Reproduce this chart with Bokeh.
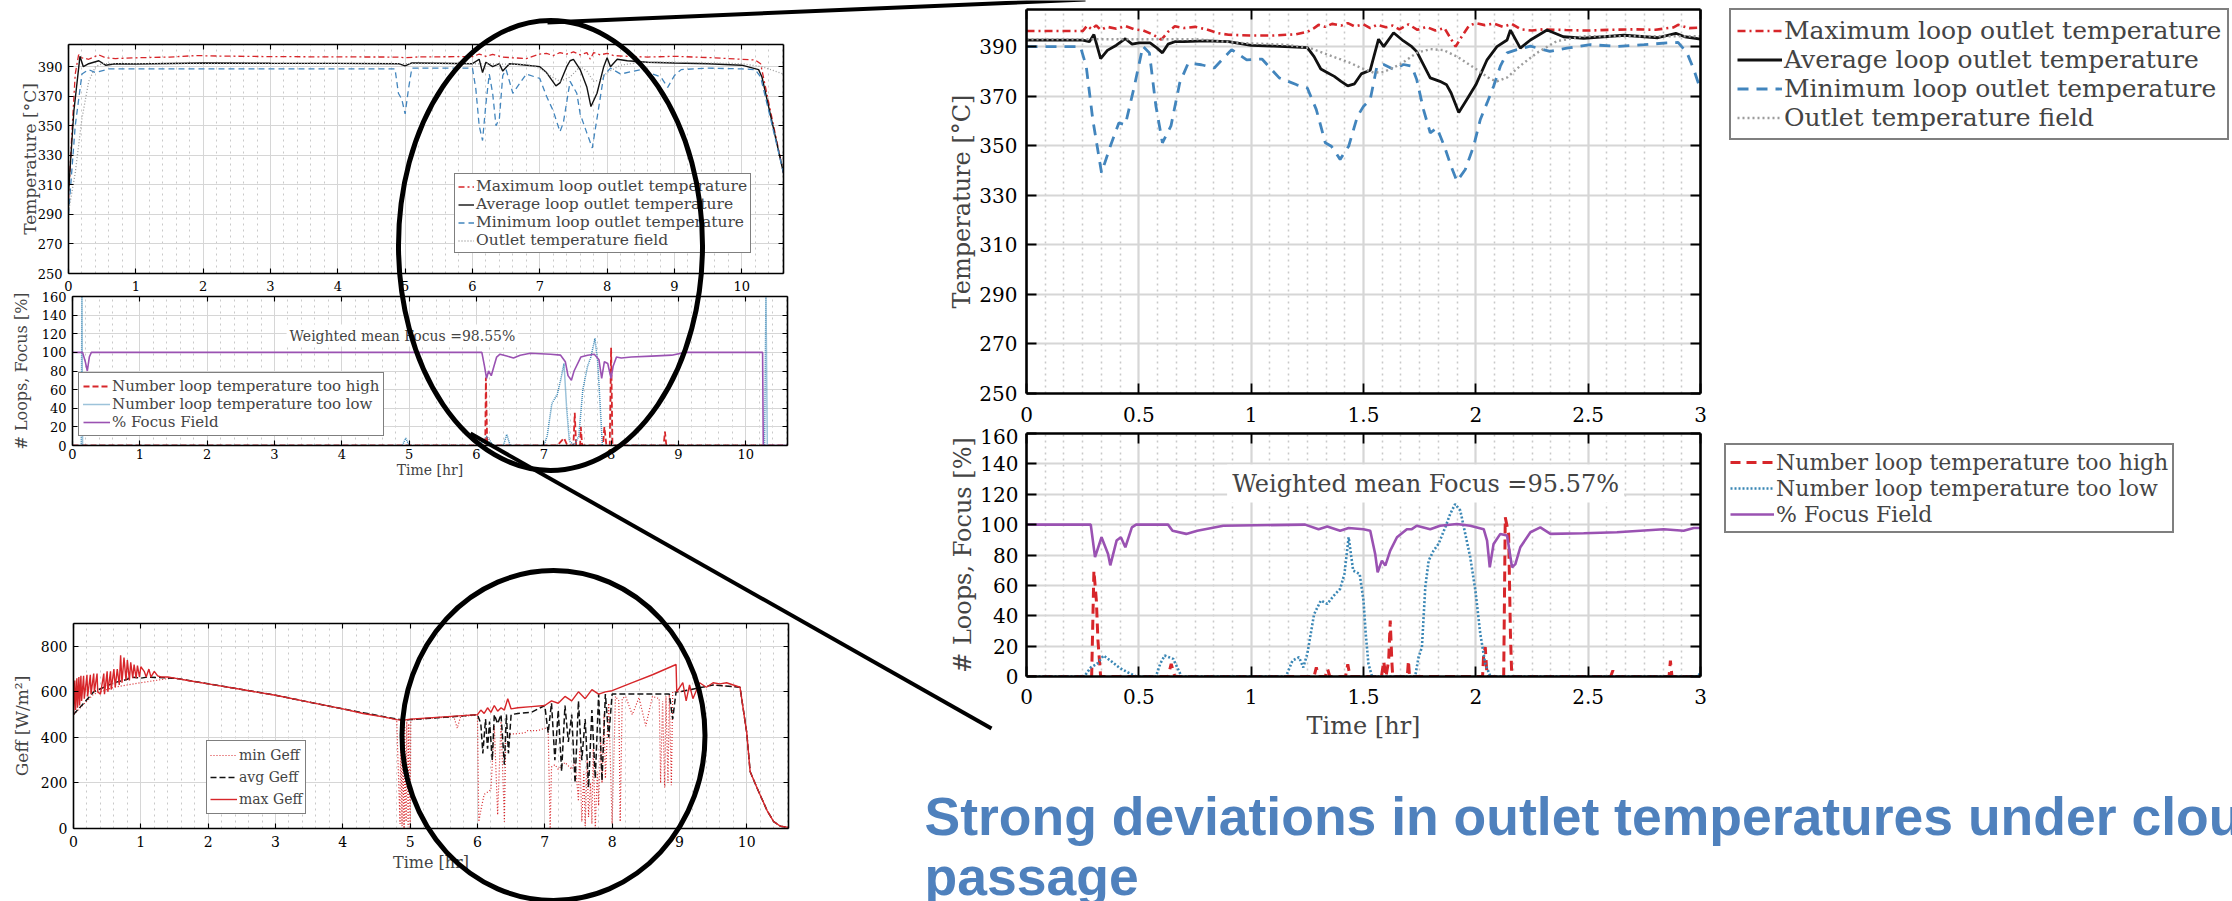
from bokeh.plotting import figure
from bokeh.models import (Range1d, LinearAxis, FixedTicker, Legend, LegendItem, Label,
                          NumeralTickFormatter, Grid)
from bokeh.layouts import column
from bokeh.embed import file_html
from bokeh.resources import INLINE
from bokeh.core.properties import value

# ---------------- data (time [hr], value) ----------------
# Full-day temperatures (top-left)
T1_MAX = [(0,300),(0.05,345),(0.10,385),(0.15,398),(0.20,396),(0.30,395),(0.45,398),(0.55,396),(0.70,395.5),(1.0,396),(1.5,396.5),(1.9,397.5),(2.2,397.2),(3.0,396.8),(4.0,396.6),(4.9,396.5),(5.0,396),(5.2,396.6),(6.0,396.8),(6.1,398.5),(6.2,397),(6.3,398.3),(6.45,396.5),(6.6,396),(6.8,395.5),(7.0,398.5),(7.1,399),(7.2,397.5),(7.3,399.5),(7.4,398.5),(7.5,400),(7.6,398),(7.7,399.5),(7.75,395),(7.8,399.5),(7.9,398),(8.0,399),(8.1,397.5),(8.3,397),(8.6,396.5),(9.0,397),(9.3,396.5),(9.6,396),(10.0,395),(10.2,394.5),(10.28,392),(10.62,318)]
T1_AVG = [(0,305),(0.08,360),(0.17,397),(0.22,390),(0.30,392),(0.45,394),(0.55,391),(0.70,392),(1.0,391.8),(2.0,392.5),(3.0,392.3),(4.0,392.2),(4.9,392),(5.0,390.5),(5.1,392.5),(5.5,392.3),(6.0,392),(6.1,395),(6.15,386),(6.2,393),(6.3,390),(6.4,392),(6.45,387),(6.55,392),(6.7,391.5),(7.0,390),(7.1,386),(7.24,377),(7.3,379),(7.4,390),(7.45,394),(7.5,395),(7.6,388),(7.7,376),(7.76,363),(7.85,372),(7.95,390),(8.0,396),(8.05,390),(8.15,395),(8.3,394),(8.6,393),(9.0,392.5),(9.5,392),(10.0,391),(10.25,388),(10.3,383),(10.62,318)]
T1_MIN = [(0,290),(0.1,350),(0.2,385),(0.3,388),(0.4,386),(0.6,388.5),(1.0,388.5),(2.0,388.5),(3.0,388.5),(4.0,388.5),(4.85,388.5),(4.9,372),(4.95,368),(5.0,358),(5.05,375),(5.1,389),(5.5,389),(6.0,389),(6.05,375),(6.1,350),(6.15,340),(6.2,365),(6.25,385),(6.3,372),(6.35,350),(6.4,355),(6.45,384),(6.5,388),(6.6,372),(6.8,385),(7.0,382),(7.1,370),(7.2,360),(7.3,346),(7.35,352),(7.45,380),(7.55,372),(7.6,358),(7.7,345),(7.78,335),(7.85,355),(7.95,384),(8.05,389),(8.2,385),(8.5,388),(8.8,383),(8.9,376),(9.0,384),(9.1,388),(9.5,389),(10.0,388.5),(10.2,388),(10.28,383),(10.62,318)]
T1_FIELD = [(0,292),(0.1,318),(0.2,355),(0.3,380),(0.4,390),(0.5,392),(1.0,392),(2.0,392),(4.0,392),(6.0,392),(6.8,391.5),(7.0,389),(7.15,384),(7.3,380),(7.45,383),(7.6,390),(7.7,387),(7.8,380),(7.9,381),(8.0,386),(8.2,391),(8.5,393),(9.0,393),(9.5,392.5),(10.0,392),(10.3,390),(10.62,385)]

# Full-day loops / focus (middle-left)
L1_HIGH = [(0,0),(6.13,0),(6.14,73),(6.16,0),(7.2,0),(7.3,8),(7.35,0),(7.44,0),(7.46,35),(7.48,0),(7.54,0),(7.55,20),(7.57,0),(7.88,0),(7.9,20),(7.93,0),(7.98,0),(8.0,105),(8.02,0),(8.78,0),(8.8,15),(8.82,0),(10.62,0)]
L1_LOW = [(0,0),(0.13,0),(0.14,165),(0.15,0),(4.9,0),(4.95,8),(5.0,0),(6.05,0),(6.15,10),(6.25,0),(6.4,0),(6.45,12),(6.5,0),(7.0,0),(7.05,10),(7.12,45),(7.2,55),(7.25,70),(7.3,88),(7.34,40),(7.38,5),(7.45,0),(7.52,10),(7.58,60),(7.65,85),(7.7,95),(7.76,115),(7.8,90),(7.84,40),(7.87,0),(10.28,0),(10.3,165),(10.32,0),(10.62,0)]
L1_FOCUS = [(0,100),(0.15,100),(0.19,90),(0.22,80),(0.25,95),(0.28,100),(6.08,100),(6.12,85),(6.15,72),(6.18,80),(6.22,75),(6.26,85),(6.3,95),(6.35,98),(6.45,96),(6.55,94),(6.65,97),(6.8,99),(7.1,98),(7.25,97),(7.32,90),(7.36,75),(7.41,70),(7.45,80),(7.55,95),(7.65,97),(7.75,98),(7.82,92),(7.86,72),(7.9,90),(7.95,88),(8.0,72),(8.03,85),(8.08,95),(8.15,94),(8.3,95),(8.6,96),(8.9,97),(9.1,100),(10.25,100),(10.26,0),(10.62,0)]
L1_MEAN = "Weighted mean Focus =98.55%"

# Effective irradiance (bottom-left)
G_MAX = [(0,500),(0.02,650),(0.03,520),(0.05,660),(0.06,530),(0.08,665),(0.09,540),(0.11,670),(0.12,560),(0.15,670),(0.16,570),(0.20,675),(0.21,580),(0.25,675),(0.26,590),(0.30,680),(0.31,600),(0.35,680),(0.36,600),(0.40,590),(0.45,680),(0.46,590),(0.50,690),(0.51,600),(0.55,690),(0.56,610),(0.60,700),(0.62,620),(0.65,700),(0.68,630),(0.70,760),(0.72,640),(0.75,750),(0.78,650),(0.80,740),(0.83,650),(0.85,730),(0.88,660),(0.90,720),(0.93,660),(0.95,715),(0.98,665),(1.00,710),(1.05,690),(1.08,665),(1.12,700),(1.15,665),(1.20,690),(1.25,670),(1.30,665),(1.40,665),(1.50,660),(1.70,650),(2.0,635),(2.5,610),(3.0,585),(3.5,555),(4.0,525),(4.3,505),(4.6,490),(4.8,478),(4.9,475),(5.0,480),(5.5,490),(6.0,500),(6.05,520),(6.1,505),(6.15,530),(6.2,510),(6.25,540),(6.3,515),(6.35,530),(6.4,520),(6.45,570),(6.5,525),(6.6,530),(6.8,535),(7.0,540),(7.1,560),(7.2,550),(7.3,580),(7.4,560),(7.5,600),(7.6,570),(7.7,610),(7.8,590),(7.9,600),(8.0,605),(8.3,640),(8.6,675),(8.95,720),(8.96,600),(9.05,640),(9.1,560),(9.15,630),(9.2,570),(9.3,640),(9.4,620),(9.5,640),(9.6,635),(9.7,640),(9.8,630),(9.9,620),(10.0,420),(10.05,250),(10.15,180),(10.3,80),(10.4,30),(10.5,10),(10.62,5)]
G_AVG = [(0,500),(0.3,600),(0.6,640),(0.8,655),(0.85,665),(1.0,660),(1.1,665),(1.5,660),(2.0,635),(3.0,585),(4.0,525),(4.9,475),(5.0,478),(5.5,488),(6.0,500),(6.05,460),(6.08,330),(6.12,480),(6.15,350),(6.18,470),(6.22,300),(6.25,500),(6.3,460),(6.35,500),(6.4,280),(6.43,500),(6.46,330),(6.5,500),(6.6,505),(6.8,510),(7.0,540),(7.05,420),(7.1,550),(7.15,300),(7.2,520),(7.25,250),(7.3,540),(7.35,380),(7.4,500),(7.45,200),(7.5,560),(7.55,300),(7.6,480),(7.65,180),(7.7,520),(7.75,220),(7.8,590),(7.85,210),(7.9,590),(7.95,400),(8.0,590),(8.3,590),(8.6,590),(8.85,590),(8.9,480),(8.95,600),(9.0,600),(9.5,630),(9.9,620),(10.0,420),(10.05,250),(10.15,180),(10.3,80),(10.4,30),(10.5,10),(10.62,5)]
G_MIN = [(0,500),(0.3,590),(0.6,620),(1.0,640),(1.4,658),(1.5,660),(2.0,635),(3.0,585),(4.0,525),(4.8,478),(4.85,20),(4.86,470),(4.88,10),(4.89,460),(4.91,0),(4.92,450),(4.94,30),(4.95,470),(4.97,5),(4.98,460),(5.0,0),(5.01,478),(5.05,478),(5.5,488),(5.65,490),(5.7,440),(5.75,492),(6.0,498),(6.02,30),(6.05,80),(6.1,150),(6.2,170),(6.25,450),(6.3,60),(6.35,470),(6.4,30),(6.42,400),(6.45,410),(6.5,415),(6.55,415),(6.7,420),(6.75,430),(6.9,430),(7.0,440),(7.05,440),(7.08,0),(7.1,270),(7.15,280),(7.2,260),(7.3,290),(7.4,260),(7.45,300),(7.5,120),(7.52,350),(7.55,30),(7.58,250),(7.6,10),(7.63,300),(7.65,50),(7.68,200),(7.7,20),(7.72,350),(7.75,0),(7.78,250),(7.8,100),(7.83,400),(7.85,200),(7.88,500),(7.9,220),(7.95,550),(8.0,20),(8.05,580),(8.1,560),(8.12,30),(8.15,570),(8.2,580),(8.3,500),(8.4,575),(8.5,450),(8.6,580),(8.7,570),(8.72,200),(8.75,560),(8.78,180),(8.8,580),(8.83,200),(8.85,590),(8.88,190),(8.9,600),(8.95,600),(9.0,600),(9.5,630),(9.9,620),(10.0,420),(10.05,250),(10.15,180),(10.3,80),(10.4,30),(10.5,10),(10.62,5)]

# Zoomed 3-hour window temperatures (top-right)
T2_MAX = [(0,396.3),(0.25,396.3),(0.27,398.5),(0.29,397.0),(0.31,398.6),(0.33,396.8),(0.36,398.0),(0.40,397.2),(0.44,398.3),(0.48,397.0),(0.52,396.5),(0.56,395.0),(0.60,392.8),(0.63,396.0),(0.66,398.2),(0.70,397.5),(0.75,398.0),(0.80,397.0),(0.85,395.5),(0.90,394.8),(1.00,394.5),(1.10,394.5),(1.20,395.0),(1.25,396.0),(1.28,397.5),(1.30,398.8),(1.33,398.0),(1.36,399.2),(1.40,398.5),(1.43,399.5),(1.46,398.2),(1.50,399.0),(1.53,397.5),(1.56,398.8),(1.60,397.8),(1.63,398.5),(1.66,397.0),(1.70,399.0),(1.74,396.8),(1.78,398.0),(1.82,396.5),(1.86,397.5),(1.89,393.0),(1.91,390.0),(1.94,394.5),(1.97,398.5),(2.00,399.5),(2.04,398.7),(2.08,399.3),(2.12,398.0),(2.16,399.2),(2.20,397.0),(2.25,396.5),(2.30,397.0),(2.40,396.7),(2.50,396.5),(2.60,396.8),(2.70,397.0),(2.80,396.8),(2.88,397.8),(2.90,398.8),(2.95,397.5),(3.00,397.7)]
T2_AVG = [(0,392.6),(0.25,392.6),(0.28,392.0),(0.30,394.9),(0.33,385.2),(0.36,388.5),(0.40,390.6),(0.44,393.2),(0.47,391.0),(0.50,391.5),(0.55,391.5),(0.58,389.5),(0.605,387.5),(0.63,391.0),(0.66,392.0),(0.70,392.0),(0.80,392.3),(0.90,392.0),(1.00,390.5),(1.10,390.2),(1.20,389.8),(1.25,389.6),(1.28,386.0),(1.31,381.0),(1.34,379.5),(1.37,378.0),(1.40,376.0),(1.43,374.2),(1.46,375.0),(1.49,379.0),(1.53,380.5),(1.567,393.0),(1.59,390.0),(1.634,395.6),(1.678,392.3),(1.715,390.0),(1.737,388.0),(1.797,377.4),(1.84,376.0),(1.87,374.6),(1.89,371.3),(1.924,363.4),(1.96,368.7),(2.00,374.6),(2.05,384.7),(2.094,390.0),(2.139,392.7),(2.154,396.7),(2.198,389.4),(2.243,392.7),(2.317,396.7),(2.39,394.0),(2.48,393.4),(2.66,394.6),(2.81,393.6),(2.89,395.4),(2.93,394.0),(3.00,393.0)]
T2_MIN = [(0,390.0),(0.24,390.0),(0.266,382.0),(0.295,360.6),(0.334,339.1),(0.373,349.8),(0.411,359.2),(0.44,358.5),(0.48,374.0),(0.518,390.2),(0.547,387.5),(0.576,366.0),(0.605,351.2),(0.643,358.0),(0.682,375.4),(0.72,383.4),(0.778,382.7),(0.836,381.4),(0.913,388.8),(0.98,384.7),(1.048,385.0),(1.125,377.4),(1.203,374.6),(1.25,373.3),(1.29,364.6),(1.33,351.2),(1.357,349.8),(1.396,344.5),(1.434,349.8),(1.473,361.9),(1.50,365.9),(1.53,368.7),(1.56,382.1),(1.59,382.8),(1.634,380.8),(1.678,382.8),(1.715,382.1),(1.737,376.7),(1.767,364.6),(1.797,355.2),(1.827,357.2),(1.86,349.8),(1.89,341.7),(1.916,335.7),(1.953,340.4),(1.99,349.8),(2.02,360.6),(2.05,367.3),(2.079,374.0),(2.109,382.1),(2.139,387.5),(2.183,388.8),(2.243,390.2),(2.33,388.1),(2.405,389.4),(2.51,390.8),(2.63,390.1),(2.75,390.8),(2.85,391.5),(2.90,391.7),(2.94,387.5),(2.97,380.8),(3.00,372.7)]
T2_FIELD = [(0,393.0),(0.76,393.0),(0.95,391.5),(1.15,390.8),(1.26,389.5),(1.34,386.8),(1.44,383.5),(1.486,381.5),(1.545,379.5),(1.59,379.8),(1.663,382.8),(1.737,387.5),(1.797,389.0),(1.856,388.6),(1.916,386.0),(2.00,381.0),(2.064,377.0),(2.094,376.0),(2.14,377.6),(2.198,382.3),(2.272,387.5),(2.36,392.2),(2.48,394.2),(3.00,394.2)]

# Zoomed 3-hour window loops / focus (bottom-right)
L2_HIGH = [(0,0),(0.29,0),(0.30,69.7),(0.311,50),(0.318,23.7),(0.33,0),(0.63,0),(0.644,8.3),(0.66,0),(1.28,0),(1.29,6),(1.30,0),(1.33,0),(1.34,5),(1.35,0),(1.42,0),(1.43,8),(1.44,0),(1.58,0),(1.59,10),(1.60,0),(1.612,10.5),(1.619,36.8),(1.626,10.5),(1.63,0),(1.695,0),(1.70,10.5),(1.705,0),(2.03,0),(2.035,15),(2.042,19.3),(2.05,0),(2.124,0),(2.131,104.8),(2.146,93.9),(2.154,28),(2.16,0),(2.60,0),(2.61,4),(2.62,0),(2.86,0),(2.866,10.5),(2.873,0),(3.0,0)]
L2_LOW = [(0,0),(0.257,0),(0.286,6),(0.314,8.3),(0.343,13.8),(0.373,10.5),(0.411,6),(0.45,2.8),(0.488,0),(0.576,0),(0.595,8.3),(0.615,13.8),(0.653,11.6),(0.69,0),(1.155,0),(1.184,10.5),(1.213,12.7),(1.232,6),(1.25,15),(1.28,41),(1.31,50),(1.339,47.8),(1.368,53.3),(1.396,57.7),(1.415,67.5),(1.434,91.7),(1.454,69.7),(1.483,67.5),(1.50,50),(1.51,28),(1.522,8.3),(1.538,0),(1.73,0),(1.745,12.7),(1.76,19.3),(1.775,58.8),(1.79,76.3),(1.812,82.9),(1.834,87.3),(1.864,98.2),(1.886,107),(1.908,113.6),(1.931,109.2),(1.953,93.9),(1.975,78.6),(1.998,56.6),(2.02,28),(2.042,8.3),(2.065,0),(2.99,0),(3.0,3)]
L2_FOCUS = [(0,100),(0.286,100),(0.305,78.6),(0.334,91.7),(0.363,80.7),(0.373,73.2),(0.401,89.5),(0.42,91.7),(0.44,85.1),(0.469,98.2),(0.488,100),(0.63,100),(0.65,96),(0.711,93.9),(0.76,96),(0.876,99.3),(1.24,100),(1.30,97),(1.339,98.7),(1.396,96),(1.434,97.8),(1.50,97),(1.53,96),(1.552,80.7),(1.563,68.6),(1.582,76.3),(1.597,73),(1.619,82.9),(1.649,91.7),(1.693,97),(1.715,97),(1.737,99.3),(1.797,97),(1.841,99.3),(1.916,100.4),(1.975,99.3),(2.035,97),(2.05,89.5),(2.062,71.9),(2.079,87.3),(2.109,93.9),(2.139,92.8),(2.161,71.9),(2.176,74),(2.198,85.1),(2.243,95),(2.287,98.2),(2.332,93.9),(2.48,94.3),(2.628,95),(2.836,97),(2.925,96),(2.97,97.8),(3.0,97.8)]
L2_MEAN = "Weighted mean Focus =95.57%"

TEMP_TICKS = [250, 270, 290, 310, 330, 350, 370, 390]
LOOP_TICKS = [0, 20, 40, 60, 80, 100, 120, 140, 160]
G_TICKS = [0, 200, 400, 600, 800]
DAY_TICKS = list(range(0, 11))
WIN_TICKS = [0, 0.5, 1, 1.5, 2, 2.5, 3]
TEMP_NAMES = ["Maximum loop outlet temperature", "Average loop outlet temperature",
              "Minimum loop outlet temperature", "Outlet temperature field"]
LOOP_NAMES = ["Number loop temperature too high", "Number loop temperature too low", "% Focus Field"]
G_NAMES = ["min Geff", "avg Geff", "max Geff"]
TITLE_1 = "Strong deviations in outlet temperatures under cloud"
TITLE_2 = "passage"

# ---------------- style ----------------
SERIF = "DejaVu Serif"
RED = "#d7262a"
BLUE = "#4285bd"
LBLUE = "#3a87b5"
GRAY = "#9c9c9c"
PURPLE = "#9a52b2"
BLACK = "#111111"
GRID = "#d6d6d6"

DAY_MINOR = [k * 0.2 for k in range(0, 54) if k % 5 != 0]
WIN_MINOR = [k / 12 for k in range(0, 37) if k % 6 != 0]

S_MAX = dict(line_color=RED, line_width=2.6, line_dash="8 4 2 4")
S_AVG = dict(line_color=BLACK, line_width=2.8)
S_MIN = dict(line_color=BLUE, line_width=2.8, line_dash="11 8")
S_FLD = dict(line_color=GRAY, line_width=2.4, line_dash="2 3")
S_HI = dict(line_color=RED, line_width=3, line_dash="10 6")
S_LO = dict(line_color=LBLUE, line_width=2.6, line_dash="2 2")
S_FO = dict(line_color=PURPLE, line_width=2.6)


def xy(pairs):
    return [a for a, _ in pairs], [b for _, b in pairs]


def style_axis(ax, ticks, tick_px, lw, tick_in, standoff, shown):
    ax.ticker = FixedTicker(ticks=ticks)
    ax.axis_line_color = "black"
    ax.axis_line_width = lw
    ax.major_tick_in = tick_in
    ax.major_tick_out = 0
    ax.major_tick_line_color = "black"
    ax.major_tick_line_width = max(1, lw * 0.7)
    ax.minor_tick_line_color = None
    ax.major_label_text_font = SERIF
    ax.major_label_standoff = standoff
    if shown:
        ax.major_label_text_font_size = f"{tick_px}px"
        ax.major_label_text_color = "black"
    else:
        ax.major_label_text_font_size = "1px"
        ax.major_label_text_color = None


def make_fig(fw, fh, borders, xr, yr, xt, xminor, yt, tick_px, lw, tick_in, xstand, ystand,
             grid_w, margin, xfmt=None):
    left, top, right, bottom = borders
    p = figure(frame_width=fw, frame_height=fh, min_border_left=left, min_border_top=top,
               min_border_right=right, min_border_bottom=bottom,
               x_range=Range1d(*xr), y_range=Range1d(*yr), output_backend="svg",
               toolbar_location=None, background_fill_color="white", border_fill_color=None,
               outline_line_color=None, x_axis_location=None, y_axis_location=None,
               margin=margin, frame_align=False)
    p.grid.visible = False
    ax_b, ax_t, ax_l, ax_r = LinearAxis(), LinearAxis(), LinearAxis(), LinearAxis()
    style_axis(ax_b, xt, tick_px, lw, tick_in, xstand, True)
    style_axis(ax_t, xt, tick_px, lw, tick_in, 0, False)
    style_axis(ax_l, yt, tick_px, lw, tick_in, ystand, True)
    style_axis(ax_r, yt, tick_px, lw, tick_in, 0, False)
    if xfmt is not None:
        ax_b.formatter = xfmt
    p.add_layout(ax_b, "below")
    p.add_layout(ax_t, "above")
    p.add_layout(ax_l, "left")
    p.add_layout(ax_r, "right")
    gx = Grid(dimension=0, ticker=FixedTicker(ticks=xt, minor_ticks=xminor),
              grid_line_color=GRID, grid_line_width=grid_w,
              minor_grid_line_color="#c9c9c9", minor_grid_line_width=max(1, grid_w * 0.7),
              minor_grid_line_dash="2 4")
    gy = Grid(dimension=1, ticker=FixedTicker(ticks=yt), grid_line_color=GRID,
              grid_line_width=grid_w)
    p.add_layout(gx)
    p.add_layout(gy)
    return p, ax_b, ax_l


def axis_label(ax, text, px, standoff):
    ax.axis_label = text
    ax.axis_label_text_font = SERIF
    ax.axis_label_text_font_style = "normal"
    ax.axis_label_text_font_size = f"{px}px"
    ax.axis_label_standoff = standoff


def make_legend(items, loc, font_px, gw, lh, spacing, padding, border_w):
    return Legend(items=[LegendItem(label=n, renderers=[r]) for n, r in items], location=loc,
                  label_text_font=SERIF, label_text_font_size=f"{font_px}px",
                  glyph_width=gw, glyph_height=lh, label_height=lh,
                  label_standoff=2, spacing=spacing, padding=padding, margin=0,
                  border_line_color="black", border_line_width=border_w,
                  background_fill_color="white", background_fill_alpha=1.0)


def legend_panel(names, series, styles, w, h, margin, font_px, gw, lh, padding, bw):
    # transparent panel carrying the outside legend of a zoomed chart; the series are
    # re-plotted here but lie outside this panel's (empty) view, only the legend shows
    f = figure(width=w, height=h, x_range=Range1d(0, 1), y_range=Range1d(-2, -1), min_border=0,
               x_axis_location=None, y_axis_location=None, toolbar_location=None,
               output_backend="svg", background_fill_color=None, border_fill_color=None,
               outline_line_color=None, margin=margin, frame_align=False)
    f.grid.visible = False
    rs = [f.line(*xy(d), **s) for d, s in zip(series, styles)]
    f.add_layout(make_legend(list(zip(names, rs)), "top_left", font_px, gw, lh, 0,
                             padding, bw))
    return f


# ---------------- top-left: full day temperature ----------------
t1, t1b, t1l = make_fig(715, 229, (60, 36, 12, 26), (0, 10.62), (250, 405), DAY_TICKS, DAY_MINOR,
                        TEMP_TICKS, 13, 1.6, 5, 7, 6, 1, (8, 0, 0, 8))
axis_label(t1l, "Temperature [°C]", 17, -5)
r_max = t1.line(*xy(T1_MAX), line_color=RED, line_width=1.3, line_dash="6 3 2 3")
r_avg = t1.line(*xy(T1_AVG), line_color=BLACK, line_width=1.4)
r_min = t1.line(*xy(T1_MIN), line_color=BLUE, line_width=1.3, line_dash="6 4")
r_fld = t1.line(*xy(T1_FIELD), line_color=GRAY, line_width=1.3, line_dash="1 2")
t1.add_layout(make_legend(list(zip(TEMP_NAMES, [r_max, r_avg, r_min, r_fld])), (386, 20),
                          15.5, 16, 17, 0, 3, 1.5))

# ---------------- middle-left: full day loops ----------------
l1, l1b, l1l = make_fig(715, 149, (60, 12, 12, 40), (0, 10.62), (0, 160), DAY_TICKS, DAY_MINOR,
                        LOOP_TICKS, 13, 1.6, 5, 3, 6, 1, (-15, 0, 0, 8))
axis_label(l1l, "# Loops, Focus [%]", 16, 8)
axis_label(l1b, "Time [hr]", 14, 0)
r_hi = l1.line(*xy(L1_HIGH), line_color=RED, line_width=1.8, line_dash="6 3")
r_lo = l1.line(*xy(L1_LOW), line_color=LBLUE, line_width=1.5, line_dash="1 1")
r_fo = l1.line(*xy(L1_FOCUS), line_color=PURPLE, line_width=1.6)
l1.add_layout(make_legend(list(zip(LOOP_NAMES, [r_hi, r_lo, r_fo])), (6, 9), 15, 27, 18, 0, 4, 1.5))
l1.add_layout(Label(x=3.18, y=118, text=L1_MEAN, text_font=SERIF, text_font_size="14px",
                    text_baseline="middle", background_fill_color="white", padding=3))

# ---------------- bottom-left: effective irradiance ----------------
g1, g1b, g1l = make_fig(715, 205, (60, 15, 12, 50), (0, 10.62), (0, 900), DAY_TICKS, DAY_MINOR,
                        G_TICKS, 14, 1.6, 5, 7, 6, 1, (123, 0, 0, 8))
axis_label(g1l, "Geff [W/m²]", 17, 6)
axis_label(g1b, "Time [hr]", 16, 3)
r_gmin = g1.line(*xy(G_MIN), line_color=RED, line_width=1.2, line_dash="1 2")
r_gavg = g1.line(*xy(G_AVG), line_color=BLACK, line_width=1.5, line_dash="6 3")
r_gmax = g1.line(*xy(G_MAX), line_color=RED, line_width=1.4)
g1.add_layout(make_legend(list(zip(G_NAMES, [r_gmin, r_gavg, r_gmax])), (133, 14),
                          14, 27, 22, 0, 3, 1.5))

# ---------------- top-right: zoomed temperature ----------------
fmt = NumeralTickFormatter(format="0.[0]")
t2, t2b, t2l = make_fig(674, 384, (118, 1, 20, 40), (0, 3), (250, 405), WIN_TICKS, WIN_MINOR,
                        TEMP_TICKS, 20, 2.6, 10, 13, 9, 2.2, (-870, 0, 0, 908), fmt)
axis_label(t2l, "Temperature [°C]", 24, 0)
t2.line(*xy(T2_MAX), **S_MAX)
t2.line(*xy(T2_AVG), **S_AVG)
t2.line(*xy(T2_MIN), **S_MIN)
t2.line(*xy(T2_FIELD), **S_FLD)
leg_t2 = legend_panel(TEMP_NAMES, [T2_MAX, T2_AVG, T2_MIN, T2_FIELD], [S_MAX, S_AVG, S_MIN, S_FLD],
                      502, 132, (-425, 0, 0, 1729), 25, 45, 29, 6, 2.2)

# ---------------- bottom-right: zoomed loops ----------------
l2, l2b, l2l = make_fig(674, 243, (118, 5, 20, 70), (0, 3), (0, 160), WIN_TICKS, WIN_MINOR,
                        LOOP_TICKS, 20, 2.6, 10, 12, 8, 2.2, (288, 0, 0, 908), fmt)
axis_label(l2l, "# Loops, Focus [%]", 24, 0)
axis_label(l2b, "Time [hr]", 24, 5)
l2.line(*xy(L2_HIGH), **S_HI)
l2.line(*xy(L2_LOW), **S_LO)
l2.line(*xy(L2_FOCUS), **S_FO)
l2.add_layout(Label(x=0.893, y=127, text=L2_MEAN, text_font=SERIF, text_font_size="24px",
                    text_baseline="middle", background_fill_color="white", padding=5))
leg_l2 = legend_panel(LOOP_NAMES, [L2_HIGH, L2_LOW, L2_FOCUS], [S_HI, S_LO, S_FO],
                      508, 110, (-303, 0, 0, 1724), 22, 44, 26, 4, 2.2)

# ---------------- overlay: highlight ellipses, connectors, title ----------------
ov = figure(width=2232, height=901, x_range=Range1d(0, 2232), y_range=Range1d(901, 0),
            output_backend="svg", toolbar_location=None, min_border=0,
            x_axis_location=None, y_axis_location=None, background_fill_color=None,
            border_fill_color=None, outline_line_color=None, margin=(-553, 0, 0, 0),
            frame_align=False)
ov.grid.visible = False
ov.ellipse(x=[550, 553], y=[245, 735], width=[304, 303], height=[450, 330],
           fill_color=None, line_color="black", line_width=5)
ov.line([547, 1085], [22, -1], line_color="black", line_width=4)
ov.line([470, 991], [433, 728], line_color="black", line_width=4)
ov.text(x=[924, 924], y=[816, 876], text=[TITLE_1, TITLE_2], text_font=value("Liberation Sans"),
        text_font_style="bold", text_font_size="53.5px", text_color="#4f81bd",
        text_baseline="alphabetic", text_align="left")

page = column(t1, l1, g1, t2, leg_t2, l2, leg_l2, ov, spacing=0)
open("out.html", "w").write(file_html(page, INLINE))
